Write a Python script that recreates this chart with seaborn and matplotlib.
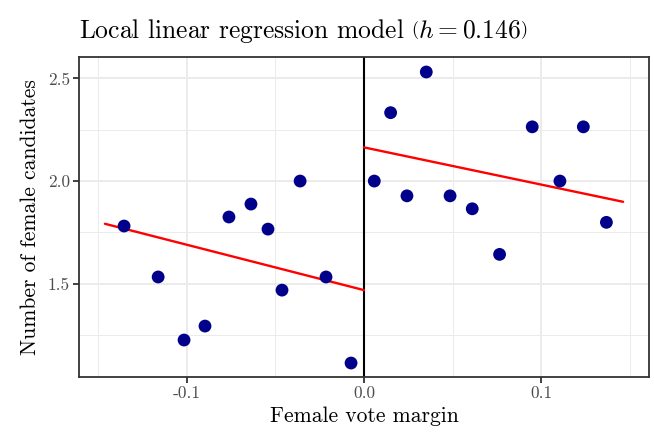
import matplotlib
matplotlib.use("Agg")
import matplotlib.pyplot as plt
import seaborn as sns
import pandas as pd

# data
left_x = [-0.1352, -0.1160, -0.1014, -0.0896, -0.0761, -0.0637, -0.0541, -0.0462, -0.0360, -0.0214, -0.0073]
left_y = [1.781, 1.533, 1.226, 1.294, 1.825, 1.888, 1.766, 1.469, 2.000, 1.533, 1.114]
right_x = [0.0058, 0.0150, 0.0242, 0.0351, 0.0485, 0.0610, 0.0764, 0.0948, 0.1104, 0.1236, 0.1366]
right_y = [2.000, 2.333, 1.928, 2.531, 1.928, 1.865, 1.643, 2.264, 2.000, 2.264, 1.799]

fit_left_x = [-0.146, 0.0]
fit_left_y = [1.792, 1.469]
fit_right_x = [0.0, 0.146]
fit_right_y = [2.164, 1.899]

x_ticks = [-0.1, 0.0, 0.1]
x_tick_labels = ["-0.1", "0.0", "0.1"]
y_ticks = [1.5, 2.0, 2.5]
y_tick_labels = ["1.5", "2.0", "2.5"]

sns.set_theme(style="white")
plt.rcParams["font.family"] = ["cmr10", "DejaVu Serif"]
plt.rcParams["mathtext.fontset"] = "cm"
plt.rcParams["axes.unicode_minus"] = False
plt.rcParams["axes.formatter.use_mathtext"] = True

pts = pd.DataFrame({"x": left_x + right_x, "y": left_y + right_y})
fitl = pd.DataFrame({"x": fit_left_x, "y": fit_left_y})
fitr = pd.DataFrame({"x": fit_right_x, "y": fit_right_y})

fig = plt.figure(figsize=(6.54, 4.32), dpi=100)
ax = fig.add_axes([79/654, 1-377/432, (649-79)/654, (377-57)/432])

ax.set_xlim(-0.1606, 0.1606)
ax.set_ylim(1.046, 2.604)

# grid
for v in [-0.15, -0.05, 0.05, 0.15]:
    ax.axvline(v, color="#EBEBEB", lw=0.7, zorder=0)
for v in [1.25, 1.75, 2.25]:
    ax.axhline(v, color="#EBEBEB", lw=0.7, zorder=0)
for v in x_ticks:
    ax.axvline(v, color="#EBEBEB", lw=1.4, zorder=0)
for v in y_ticks:
    ax.axhline(v, color="#EBEBEB", lw=1.4, zorder=0)

ax.axvline(0.0, color="black", lw=1.5, zorder=2)

sns.lineplot(data=fitl, x="x", y="y", color="red", lw=1.7, ax=ax, zorder=3)
sns.lineplot(data=fitr, x="x", y="y", color="red", lw=1.7, ax=ax, zorder=3)
sns.scatterplot(data=pts, x="x", y="y", color="#00008B", s=85, edgecolor="none", ax=ax, zorder=4)

ax.set_xticks(x_ticks)
ax.set_xticklabels(x_tick_labels)
ax.set_yticks(y_ticks)
ax.set_yticklabels(y_tick_labels)
ax.tick_params(axis="both", which="major", length=4.5, width=1.3, color="#333333",
               labelcolor="#4D4D4D", labelsize=12.5, pad=2, bottom=True, left=True)

for s in ax.spines.values():
    s.set_color("#333333")
    s.set_linewidth(1.3)

ax.set_xlabel("Female vote margin", fontsize=15.5, color="black", labelpad=4)
ax.set_ylabel("Number of female candidates", fontsize=15.5, color="black", labelpad=6)
ax.set_title(r"Local linear regression model $\left(h = 0.146\right)$", fontsize=18.4,
             loc="left", pad=14, color="black")

fig.savefig("out.png", dpi=100)
